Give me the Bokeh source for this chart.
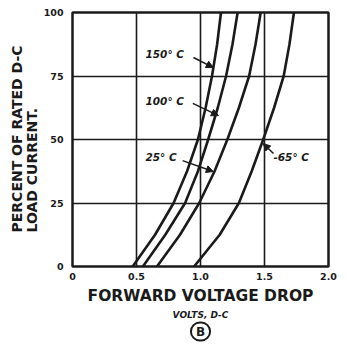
from bokeh.plotting import figure
from bokeh.models import Range1d, FixedTicker, Label, Arrow, NormalHead, Title
from bokeh.embed import file_html
from bokeh.resources import INLINE

# ---- data ----
pct = [0, 12.5, 25, 37.5, 50, 62.5, 75, 87.5, 100]
v_150 = [0.47, 0.645, 0.79, 0.895, 0.98, 1.04, 1.09, 1.13, 1.16]
v_100 = [0.55, 0.725, 0.88, 0.98, 1.06, 1.135, 1.20, 1.25, 1.29]
v_25 = [0.66, 0.84, 0.99, 1.11, 1.21, 1.30, 1.38, 1.43, 1.47]
v_m65 = [0.95, 1.15, 1.30, 1.40, 1.49, 1.575, 1.65, 1.695, 1.73]

x_ticks = [0, 0.5, 1.0, 1.5, 2.0]
x_tick_labels = ["0", "0.5", "1.0", "1.5", "2.0"]
y_ticks = [0, 25, 50, 75, 100]
y_tick_labels = ["0", "25", "50", "75", "100"]

curve_labels = ["150° C", "100° C", "25° C", "-65° C"]
label_pos = [(0.57, 83.5), (0.57, 65.0), (0.57, 43.3), (1.57, 43.3)]
arrow_from = [(0.945, 82.3), (0.94, 64.2), (0.86, 41.7), (1.57, 44.5)]
arrow_to = [(1.10, 78.3), (1.14, 59.4), (1.10, 37.4), (1.49, 48.4)]

INK = "#1a1a1a"
FONT = "DejaVu Sans"

p = figure(width=340, height=344, output_backend="svg", toolbar_location=None,
           x_range=Range1d(0, 2), y_range=Range1d(0, 100),
           min_border_left=72, min_border_right=12, min_border_top=12,
           min_border_bottom=78)
p.background_fill_color = "white"
p.border_fill_color = "white"
p.outline_line_color = INK
p.outline_line_width = 2.5

for ax, ticks, labs in ((p.xaxis[0], x_ticks, x_tick_labels), (p.yaxis[0], y_ticks, y_tick_labels)):
    ax.ticker = FixedTicker(ticks=ticks)
    ax.major_label_overrides = {t: l for t, l in zip(ticks, labs)}
    ax.axis_line_color = None
    ax.major_tick_line_color = None
    ax.minor_tick_line_color = None
    ax.major_tick_out = 0
    ax.major_tick_in = 0
    ax.major_label_text_font = FONT
    ax.major_label_text_font_style = "bold"
    ax.major_label_text_font_size = "9.5px"
    ax.major_label_text_color = INK
p.xaxis.major_label_standoff = 6
p.yaxis.major_label_standoff = 9

p.xgrid.ticker = FixedTicker(ticks=x_ticks)
p.ygrid.ticker = FixedTicker(ticks=y_ticks)
for g in (p.xgrid[0], p.ygrid[0]):
    g.grid_line_color = INK
    g.grid_line_width = 1.6

for xs in (v_150, v_100, v_25, v_m65):
    p.line(xs, pct, line_color=INK, line_width=2.6, line_join="round")

for txt, (lx, ly) in zip(curve_labels, label_pos):
    p.add_layout(Label(x=lx, y=ly, text=txt, text_font=FONT, text_font_style="bold italic",
                       text_font_size="10.5px", text_color=INK, text_baseline="middle",
                       text_align="left"))
for (x0, y0), (x1, y1) in zip(arrow_from, arrow_to):
    p.add_layout(Arrow(end=NormalHead(size=7, fill_color=INK, line_color=INK),
                       x_start=x0, y_start=y0, x_end=x1, y_end=y1,
                       line_color=INK, line_width=1.5))

# axis titles as stacked Title panels
p.add_layout(Title(text="FORWARD VOLTAGE DROP", align="center", offset=-5,
                   text_font=FONT, text_font_style="bold", text_font_size="15.5px",
                   text_color=INK, standoff=5), "below")
p.add_layout(Title(text="VOLTS, D-C", align="center", offset=-2,
                   text_font=FONT, text_font_style="bold italic", text_font_size="9px",
                   text_color=INK, standoff=0), "below")
p.add_layout(Title(text="B", align="center", offset=-1,
                   text_font=FONT, text_font_style="bold", text_font_size="12px",
                   text_color=INK, standoff=2, border_line_color=INK,
                   border_line_width=2, border_radius=9, padding=(5, 5, 2, 2)), "below")
p.add_layout(Title(text="PERCENT OF RATED D-C\nLOAD CURRENT.", align="left", offset=34,
                   text_font=FONT, text_font_style="bold", text_font_size="14px",
                   text_line_height=0.95, text_color=INK, standoff=0), "left")

open("out.html", "w").write(file_html(p, INLINE))
